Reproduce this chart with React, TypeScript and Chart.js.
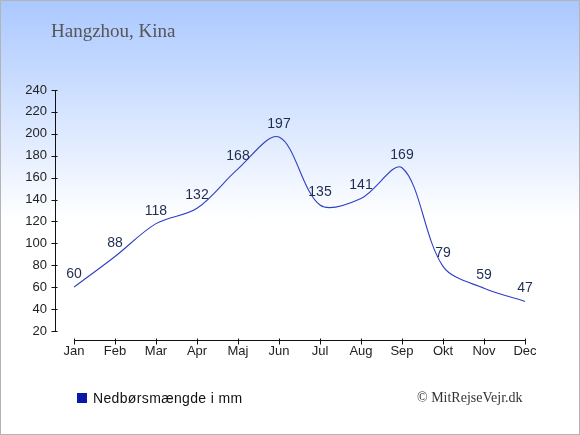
import React, { useEffect, useRef } from "react";
import { Chart, registerables } from "chart.js";

Chart.register(...registerables);

const months = ["Jan", "Feb", "Mar", "Apr", "Maj", "Jun", "Jul", "Aug", "Sep", "Okt", "Nov", "Dec"];
const rainfall = [60, 88, 118, 132, 168, 197, 135, 141, 169, 79, 59, 47];
const yMin = 20;
const yMax = 240;
const yStep = 20;
const titleText = "Hangzhou, Kina";
const legendText = "Nedbørsmængde i mm";
const creditText = "© MitRejseVejr.dk";

const axisPlugin = {
  id: "customAxes",
  afterDraw(chart: any) {
    const { ctx, chartArea, scales } = chart;
    const x = scales.x;
    const y = scales.y;
    ctx.save();
    ctx.strokeStyle = "#111";
    ctx.lineWidth = 1;
    const ax = Math.round(chartArea.left - 19) + 0.5;
    ctx.beginPath();
    ctx.moveTo(ax, y.getPixelForValue(yMax));
    ctx.lineTo(ax, y.getPixelForValue(yMin));
    y.ticks.forEach((t: any) => {
      const py = Math.round(y.getPixelForValue(t.value)) + 0.5;
      ctx.moveTo(ax - 4, py);
      ctx.lineTo(ax + 2, py);
    });
    const ay = Math.round(chartArea.bottom + 9) + 0.5;
    const x0 = x.getPixelForValue(0);
    const x1 = x.getPixelForValue(months.length - 1);
    ctx.moveTo(x0, ay);
    ctx.lineTo(x1, ay);
    months.forEach((_m, i) => {
      const px = Math.round(x.getPixelForValue(i)) + 0.5;
      ctx.moveTo(px, ay - 2);
      ctx.lineTo(px, ay + 4);
    });
    ctx.stroke();
    ctx.restore();
  },
  afterDatasetsDraw(chart: any) {
    const { ctx } = chart;
    const meta = chart.getDatasetMeta(0);
    const data = chart.data.datasets[0].data;
    ctx.save();
    ctx.font = "14px 'Liberation Sans', Arial, sans-serif";
    ctx.fillStyle = "#1f2e4e";
    ctx.textAlign = "center";
    ctx.textBaseline = "middle";
    meta.data.forEach((pt: any, i: number) => {
      ctx.fillText(String(data[i]), pt.x, pt.y - 13);
    });
    ctx.restore();
  },
};

export default function App() {
  const ref = useRef<HTMLCanvasElement | null>(null);

  useEffect(() => {
    if (!ref.current) return;
    const chart = new Chart(ref.current, {
      type: "line",
      data: {
        labels: months,
        datasets: [
          {
            label: legendText,
            data: rainfall,
            borderColor: "#3040c4",
            borderWidth: 1.1,
            pointRadius: 0,
            tension: 0.33,
            fill: false,
          },
        ],
      },
      options: {
        animation: false,
        responsive: false,
        maintainAspectRatio: false,
        layout: { padding: { top: 90, right: 55, bottom: 0, left: 0 } },
        plugins: {
          legend: { display: false },
          title: { display: false },
          tooltip: { enabled: false },
        },
        scales: {
          x: {
            type: "category",
            offset: false,
            grid: { display: false, drawTicks: false },
            border: { display: false },
            ticks: {
              padding: 13,
              color: "#222",
              font: { family: "'Liberation Sans', Arial, sans-serif", size: 13 },
              maxRotation: 0,
              autoSkip: false,
            },
            afterFit: (s: any) => {
              s.height = 104;
            },
          },
          y: {
            min: yMin,
            max: yMax,
            grid: { display: false, drawTicks: false },
            border: { display: false },
            ticks: {
              stepSize: yStep,
              padding: 27,
              color: "#222",
              font: { family: "'Liberation Sans', Arial, sans-serif", size: 13 },
            },
            afterFit: (s: any) => {
              s.width = 74;
            },
          },
        },
      },
      plugins: [axisPlugin],
    });
    return () => chart.destroy();
  }, []);

  return (
    <div
      style={{
        position: "absolute",
        left: 0,
        top: 0,
        width: 580,
        height: 435,
        background: "linear-gradient(to bottom, #aac8ff 0px, #ffffff 220px, #ffffff 435px)",
        boxShadow: "inset 0 0 0 1px #b4b4b4",
        overflow: "hidden",
      }}
    >
      <canvas
        ref={ref}
        width={580}
        height={435}
        style={{ position: "absolute", left: 0, top: 0, width: 580, height: 435 }}
      />
      <div
        style={{
          position: "absolute",
          left: 51,
          top: 21,
          fontFamily: "'Liberation Serif', 'Times New Roman', serif",
          fontSize: 19,
          lineHeight: 1,
          color: "#555",
          whiteSpace: "nowrap",
        }}
      >
        {titleText}
      </div>
      <div
        style={{
          position: "absolute",
          left: 77,
          top: 393,
          width: 10,
          height: 10,
          background: "#0a18aa",
        }}
      />
      <div
        style={{
          position: "absolute",
          left: 93,
          top: 391,
          fontFamily: "'Liberation Sans', Arial, sans-serif",
          fontSize: 14,
          letterSpacing: 0.35,
          lineHeight: 1,
          color: "#111",
          whiteSpace: "nowrap",
        }}
      >
        {legendText}
      </div>
      <div
        style={{
          position: "absolute",
          left: 417,
          top: 391,
          fontFamily: "'Liberation Serif', 'Times New Roman', serif",
          fontSize: 14,
          lineHeight: 1,
          color: "#333",
          whiteSpace: "nowrap",
        }}
      >
        {creditText}
      </div>
    </div>
  );
}
